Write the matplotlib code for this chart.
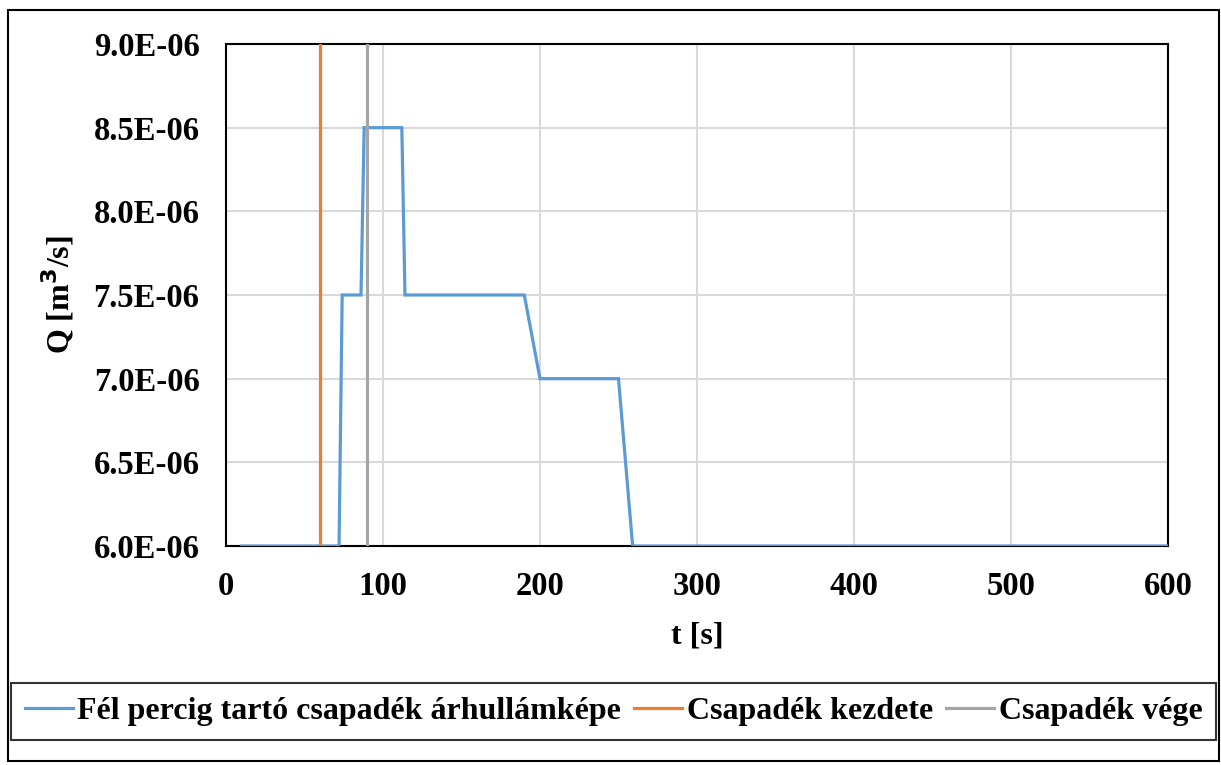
import matplotlib.pyplot as plt
from matplotlib.patches import Rectangle

# hydrograph of the half-minute rain
t = [10, 72, 74, 86, 88, 112, 114, 190, 200, 250, 259, 600]
q = [6.0e-6, 6.0e-6, 7.5e-6, 7.5e-6, 8.5e-6, 8.5e-6, 7.5e-6, 7.5e-6,
     7.0e-6, 7.0e-6, 6.0e-6, 6.0e-6]

# start / end of rain
t_start = [60, 60]
t_end = [90, 90]
q_mark = [6.0e-6, 9.0e-6]

labels = ['Fél percig tartó csapadék árhullámképe', 'Csapadék kezdete', 'Csapadék vége']
xticks = [0, 100, 200, 300, 400, 500, 600]
yticks = [6.0e-6, 6.5e-6, 7.0e-6, 7.5e-6, 8.0e-6, 8.5e-6, 9.0e-6]

plt.rcParams['font.family'] = ['Liberation Serif', 'DejaVu Serif']
plt.rcParams['font.weight'] = 'bold'

fig = plt.figure(figsize=(12.21, 7.65), dpi=100)
ax = fig.add_axes([226 / 1221, 1 - 546 / 765, 942 / 1221, 502 / 765])

l1, = ax.plot(t, q, color='#5B9BD5', lw=2.3, solid_joinstyle='miter', zorder=3)
l2, = ax.plot(t_start, q_mark, color='#ED7D31', lw=2.3, zorder=3)
l3, = ax.plot(t_end, q_mark, color='#A5A5A5', lw=2.3, zorder=3)

ax.set_xlim(0, 600)
ax.set_ylim(6.0e-6, 9.0e-6)
ax.set_xticks(xticks)
ax.set_yticks(yticks)
ax.set_xticklabels([str(x) for x in xticks])
ax.set_yticklabels(['%.1fE-06' % (y * 1e6) for y in yticks])
ax.tick_params(length=0, labelsize=23.5)
ax.tick_params(axis='y', pad=19)
ax.tick_params(axis='x', pad=18)
ax.grid(True, color='#D9D9D9', lw=1.5, zorder=0)
ax.set_axisbelow(True)
for s in ax.spines.values():
    s.set_color('black')
    s.set_linewidth(1.5)

ax.set_xlabel('t [s]', fontsize=23, fontweight='bold', labelpad=14)
ax.set_ylabel('Q [m$^3$/s]', fontsize=23, fontweight='bold', labelpad=12)

leg = fig.legend([l1, l2, l3], labels, loc='center', ncol=3,
                 bbox_to_anchor=(613.5 / 1221, 1 - 711.5 / 765),
                 fontsize=23, frameon=True, fancybox=False,
                 handlelength=1.5, handletextpad=0.15, columnspacing=0.4,
                 borderpad=0.42, borderaxespad=0)
leg.get_frame().set_edgecolor('black')
leg.get_frame().set_linewidth(1.5)

fig.patches.append(Rectangle((8 / 1221, 4 / 765), 1211 / 1221, 751 / 765,
                             transform=fig.transFigure, fill=False,
                             edgecolor='black', lw=1.5))

fig.savefig('out.png', dpi=100)
